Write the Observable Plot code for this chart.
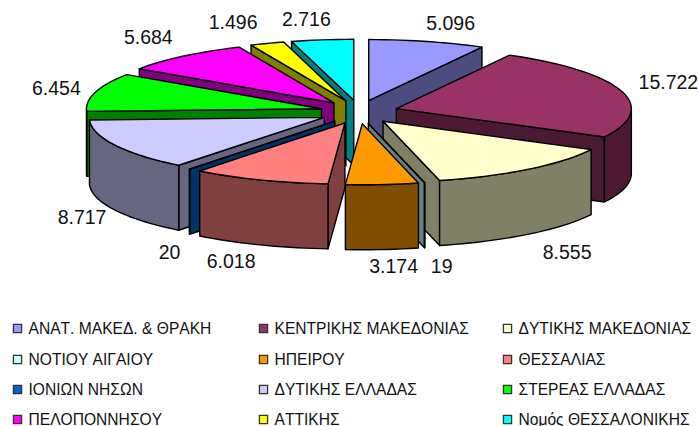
<!DOCTYPE html>
<html>
<head>
<meta charset="utf-8">
<style>html,body{margin:0;padding:0;background:#fff}svg{display:block}svg text{font-kerning:none}</style>
<script src="https://cdn.jsdelivr.net/npm/d3@7"></script>
<script src="https://cdn.jsdelivr.net/npm/@observablehq/plot@0.6"></script>
</head>
<body>
<div id="chart"></div>
<script>
const regions = ["ΑΝΑΤ. ΜΑΚΕΔ. & ΘΡΑΚΗ","ΚΕΝΤΡΙΚΗΣ ΜΑΚΕΔΟΝΙΑΣ","ΔΥΤΙΚΗΣ ΜΑΚΕΔΟΝΙΑΣ","ΝΟΤΙΟΥ ΑΙΓΑΙΟΥ","ΗΠΕΙΡΟΥ","ΘΕΣΣΑΛΙΑΣ","ΙΟΝΙΩΝ ΝΗΣΩΝ","ΔΥΤΙΚΗΣ ΕΛΛΑΔΑΣ","ΣΤΕΡΕΑΣ ΕΛΛΑΔΑΣ","ΠΕΛΟΠΟΝΝΗΣΟΥ","ΑΤΤΙΚΗΣ","Νομός ΘΕΣΣΑΛΟΝΙΚΗΣ"];
const values = [5096,15722,8555,19,3174,6018,20,8717,6454,5684,1496,2716];
const valueLabels = ["5.096","15.722","8.555","19","3.174","6.018","20","8.717","6.454","5.684","1.496","2.716"];
const topColors = ["#9999FF","#993366","#FFFFCC","#CCFFFF","#FF9900","#FF8080","#0066CC","#CCCCFF","#00FF00","#FF00FF","#FFFF00","#00FFFF"];
const sideColors = ["#4C4C80","#4C1933","#808066","#668080","#804C00","#804040","#003366","#666680","#008000","#800080","#808000","#008080"];
const labelNudgeX = [23.5,47,39,17,11.5,-29,-20,-33,-39,-35,-34,-16];
const labelNudgeY = [-18,-8,18,19,17,17,19,8,-3,-18.5,-21,-20];

// layout of the tilted pie
const W = 699, H = 426;
const cx = 358.5, cy = 111.5, rx = 235, ry = 61, ex = 39, ey = 11.8, depth = 65;
const rad = d => d * Math.PI / 180;
const total = d3.sum(values);
let acc = 0;
const slices = values.map((v, i) => {
  const a0 = acc / total * 360; acc += v;
  const a1 = acc / total * 360, m = (a0 + a1) / 2;
  const ax = cx + ex * Math.sin(rad(m)), ay = cy - ey * Math.cos(rad(m));
  return {i, a0, a1, m, ax, ay};
});
const rim = (s, a) => [s.ax + rx * Math.sin(rad(a)), s.ay - ry * Math.cos(rad(a))];
const arc = (s, a, b) => {
  const n = Math.max(1, Math.ceil((b - a) / 2));
  return d3.range(n + 1).map(k => rim(s, a + (b - a) * k / n));
};
const faces = [];
const addFace = (id, pts, fill) => {
  [...pts, pts[0]].forEach(([x, y]) => faces.push({id, x, y, fill}));
};
const down = pts => pts.map(([x, y]) => [x, y + depth]).reverse();
[...slices].sort((p, q) => p.ay - q.ay).forEach(s => {
  const c = sideColors[s.i], apex = [s.ax, s.ay];
  const wall = a => { const r = rim(s, a); return [apex, r, ...down([apex, r])]; };
  if (Math.sin(rad(s.a0)) < 0) addFace(`w0-${s.i}`, wall(s.a0), c);
  if (Math.sin(rad(s.a1)) > 0) addFace(`w1-${s.i}`, wall(s.a1), c);
  const f0 = Math.max(s.a0, 90), f1 = Math.min(s.a1, 270);
  if (f1 > f0) { const e = arc(s, f0, f1); addFace(`r-${s.i}`, [...e, ...down(e)], c); }
  addFace(`t-${s.i}`, [apex, ...arc(s, s.a0, s.a1)], topColors[s.i]);
});
const labels = slices.map(s => {
  const [x, y] = rim(s, s.m);
  return {
    x: x + labelNudgeX[s.i],
    y: y + (Math.cos(rad(s.m)) < 0 ? depth : 0) + labelNudgeY[s.i],
    t: valueLabels[s.i]
  };
});
const colX = [12, 258, 502], rowY = [328, 359, 389, 419];
const legend = regions.map((name, i) => ({
  name, color: topColors[i], x: colX[i % 3] + 5, tx: colX[i % 3] + 16, y: rowY[Math.floor(i / 3)]
}));

const plot = Plot.plot({
  width: W, height: H, margin: 0,
  x: {domain: [0, W], range: [0, W], axis: null},
  y: {domain: [0, H], range: [0, H], axis: null},
  color: {type: "identity"},
  style: {fontFamily: "'Liberation Sans', Arial, sans-serif", background: "#fff"},
  marks: [
    Plot.line(faces, {x: "x", y: "y", z: "id", fill: "fill", stroke: "#000", strokeWidth: 1.4, curve: "linear", strokeLinejoin: "round"}),
    Plot.text(labels, {x: "x", y: "y", text: "t", fontSize: 19.5, fill: "#111", textAnchor: "middle"}),
    Plot.dot(legend, {x: "x", y: "y", symbol: "square", r: 4.6, fill: "color", stroke: "#333", strokeWidth: 1.3}),
    Plot.text(legend, {x: "tx", y: "y", text: "name", fontSize: 15.6, fill: "#111", textAnchor: "start"})
  ]
});
document.getElementById("chart").appendChild(plot);
</script>
</body>
</html>
